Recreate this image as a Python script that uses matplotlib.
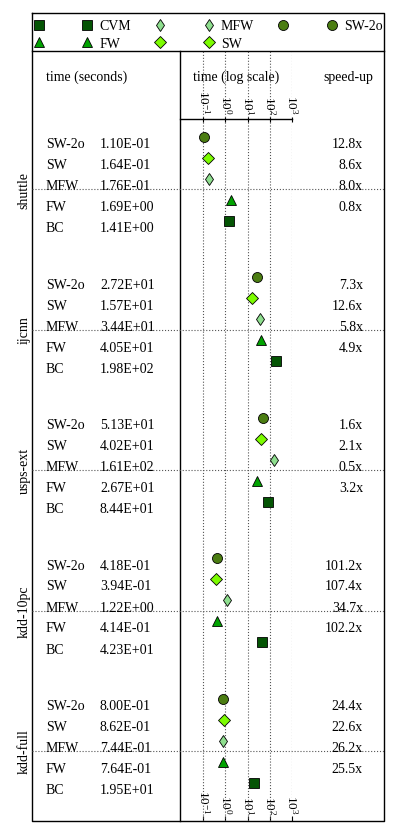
import matplotlib
matplotlib.use('Agg')
import matplotlib.pyplot as plt
from matplotlib.lines import Line2D
from matplotlib.ticker import NullLocator

# ---------------- data ----------------
datasets = ['shuttle', 'ijcnn', 'usps-ext', 'kdd-10pc', 'kdd-full']
methods = ['SW-2o', 'SW', 'MFW', 'FW', 'BC']
legend_names = ['SW-2o', 'SW', 'MFW', 'FW', 'CVM']

time_shuttle = [1.10e-1, 1.64e-1, 1.76e-1, 1.69e0, 1.41e0]
time_ijcnn = [2.72e1, 1.57e1, 3.44e1, 4.05e1, 1.98e2]
time_usps = [5.13e1, 4.02e1, 1.61e2, 2.67e1, 8.44e1]
time_kdd10 = [4.18e-1, 3.94e-1, 1.22e0, 4.14e-1, 4.23e1]
time_kddfull = [8.00e-1, 8.62e-1, 7.44e-1, 7.64e-1, 1.95e1]

speed_shuttle = [12.8, 8.6, 8.0, 0.8]
speed_ijcnn = [7.3, 12.6, 5.8, 4.9]
speed_usps = [1.6, 2.1, 0.5, 3.2]
speed_kdd10 = [101.2, 107.4, 34.7, 102.2]
speed_kddfull = [24.4, 22.6, 26.2, 25.5]

times = [time_shuttle, time_ijcnn, time_usps, time_kdd10, time_kddfull]
speeds = [speed_shuttle, speed_ijcnn, speed_usps, speed_kdd10, speed_kddfull]
decade_ticks = [1e-1, 1e0, 1e1, 1e2, 1e3]

# ---------------- styles ----------------
plt.rcParams['font.family'] = ['Liberation Serif', 'DejaVu Serif']
plt.rcParams['mathtext.fontset'] = 'stix'
FS = 10
TFS = 9.5
styles = {
    'SW-2o': dict(marker='o', ms=7.2, mfc='#4b7d12'),
    'SW': dict(marker='D', ms=6.6, mfc='#7cfc00'),
    'MFW': dict(marker='d', ms=6.6, mfc='#8ede8e'),
    'FW': dict(marker='^', ms=7.0, mfc='#00a300'),
    'BC': dict(marker='s', ms=6.5, mfc='#045404'),
}
EDGE = dict(mec='black', mew=0.6, ls='none')
GRID_C = '#555555'

# ---------------- layout (pixels) ----------------
W, H = 399, 837
L, R = 32, 384
LEG_TOP, TOP, BOT = 14, 52, 822
DIV, AX_R = 180, 292
AXIS_Y = 120
G0, GSTEP, RSTEP = 190, 140.5, 21
X_NAME, X_TIME, X_SPEED = 46, 100, 363

fig = plt.figure(figsize=(W / 100, H / 100), dpi=100)
ax = fig.add_axes([0, 0, 1, 1])
ax.set_xlim(0, W)
ax.set_ylim(H, 0)
ax.axis('off')

# frame
kw = dict(color='black', lw=1.0, solid_capstyle='projecting')
ax.plot([L, R, R, L, L], [LEG_TOP, LEG_TOP, BOT, BOT, LEG_TOP], **kw)
ax.plot([L, R], [TOP, TOP], **kw)
ax.plot([DIV, DIV], [TOP, BOT], **kw)

# headers
ax.text(X_NAME, 77, 'time (seconds)', fontsize=FS, va='center')
ax.text((DIV + AX_R) / 2, 77, 'time (log scale)', fontsize=FS, ha='center', va='center')
ax.text(373, 77, 'speed-up', fontsize=FS, ha='right', va='center')

# log axes
lx = fig.add_axes([DIV / W, 1 - BOT / H, (AX_R - DIV) / W, (BOT - TOP) / H])
lx.patch.set_visible(False)
lx.set_xscale('log')
lx.set_xlim(10 ** -2.05, 1e3)
lx.set_ylim(BOT, TOP)
for s in ['left', 'right', 'bottom']:
    lx.spines[s].set_visible(False)
lx.spines['top'].set_position(('data', AXIS_Y))
lx.spines['top'].set_linewidth(1.0)
lx.set_xticks(decade_ticks)
lx.xaxis.set_minor_locator(NullLocator())
lx.xaxis.set_ticks_position('top')
lx.tick_params(axis='x', which='major', direction='inout', length=3.6, width=0.8,
               pad=1.8, labelrotation=270, labelsize=TFS)
lx.set_yticks([])
lx.grid(True, axis='x', which='major', linestyle=':', color=GRID_C, linewidth=0.8)

sx = lx.secondary_xaxis('bottom')
sx.set_xticks(decade_ticks)
sx.xaxis.set_minor_locator(NullLocator())
sx.spines['bottom'].set_visible(False)
sx.tick_params(axis='x', which='major', direction='in', length=3.6, width=0.8,
               pad=-5, labelrotation=270, labelsize=TFS)
for lbl in sx.get_xticklabels():
    lbl.set_va('bottom')

# rows
for k, name in enumerate(datasets):
    gc = G0 + GSTEP * k
    ax.plot([L, R], [gc, gc], ls=':', color=GRID_C, lw=0.8)
    ax.text(24, gc, name, fontsize=FS, rotation=90, ha='center', va='center')
    for i, m in enumerate(methods):
        y = gc + (i - 2.5) * RSTEP
        t = times[k][i]
        lx.plot([t], [y], **styles[m], **EDGE, clip_on=False, zorder=5)
        ax.text(X_NAME, y + RSTEP / 2, m, fontsize=FS, va='baseline')
        ax.text(X_TIME, y + RSTEP / 2, f'{t:.2E}', fontsize=FS, va='baseline')
        if i < len(speeds[k]):
            ax.text(X_SPEED, y + RSTEP / 2, f'{speeds[k][i]:.1f}x', fontsize=FS,
                    ha='right', va='baseline')

# legend (column-major filling reproduces the reference arrangement)
def h(m, lab):
    return Line2D([], [], **styles[m], **EDGE, label=lab)

blank = '\u2002'
handles = [h('BC', blank), h('FW', blank), h('BC', 'CVM'), h('FW', 'FW'),
           h('MFW', blank), h('SW', blank), h('MFW', 'MFW'), h('SW', 'SW'),
           h('SW-2o', blank), h('SW-2o', 'SW-2o')]
ax.legend(handles=handles, ncol=6, loc='upper left',
          bbox_to_anchor=(L / W, 1 - 20.5 / H), bbox_transform=fig.transFigure,
          frameon=False, borderpad=0, borderaxespad=0, handlelength=1.0,
          handletextpad=0.36, columnspacing=1.62, labelspacing=0.33,
          fontsize=FS, numpoints=1)

fig.savefig('out.png', dpi=100)
